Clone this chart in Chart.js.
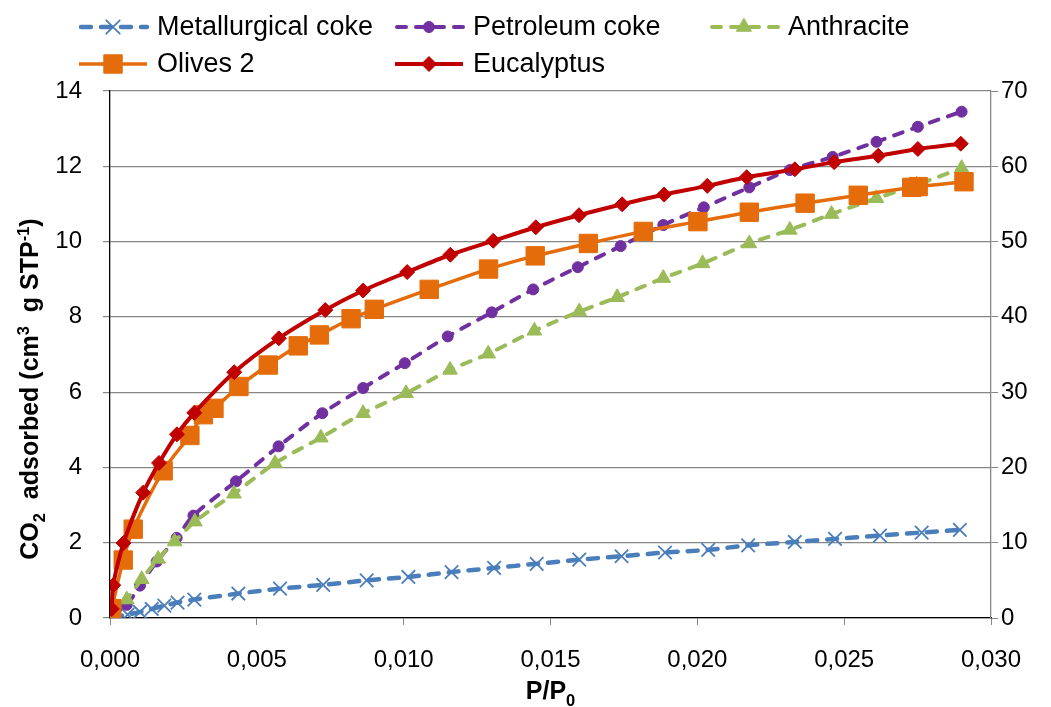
<!DOCTYPE html>
<html>
<head>
<meta charset="utf-8">
<script src="https://cdn.jsdelivr.net/npm/chart.js@4.4.1/dist/chart.umd.min.js"></script>
<style>
  html, body { margin: 0; padding: 0; background: #ffffff; }
  #wrap { width: 1051px; height: 707px; }
</style>
</head>
<body>
<div id="wrap"><canvas id="c" width="1051" height="707"></canvas></div>
<script>
// Relative pressure (P/P0) and CO2 uptake (cm3 g STP-1) for each sorbent
const metallurgicalP = [0.00007, 0.0006, 0.00102, 0.00142, 0.00185, 0.0023, 0.00287, 0.00437, 0.00579, 0.00726, 0.00874, 0.01016, 0.01163, 0.01308, 0.01453, 0.01598, 0.01742, 0.0189, 0.02037, 0.02173, 0.02332, 0.02469, 0.02622, 0.02764, 0.02894];
const metallurgicalQ = [0.02, 0.09, 0.16, 0.24, 0.33, 0.41, 0.49, 0.65, 0.78, 0.88, 1.0, 1.09, 1.22, 1.33, 1.44, 1.55, 1.64, 1.74, 1.81, 1.93, 2.02, 2.1, 2.19, 2.27, 2.34];

const petroleumP = [0.0001, 0.00057, 0.00102, 0.00159, 0.00227, 0.00284, 0.00429, 0.00574, 0.00723, 0.00862, 0.01004, 0.0115, 0.013, 0.01441, 0.01593, 0.01739, 0.01884, 0.02022, 0.02177, 0.02315, 0.02461, 0.0261, 0.02751, 0.029];
const petroleumQ = [0.08, 0.35, 0.86, 1.5, 2.13, 2.72, 3.63, 4.56, 5.44, 6.11, 6.77, 7.48, 8.12, 8.73, 9.32, 9.88, 10.44, 10.91, 11.44, 11.9, 12.25, 12.65, 13.05, 13.45];

const anthraciteP = [0.00009, 0.00057, 0.00108, 0.00164, 0.0022, 0.00289, 0.00422, 0.00562, 0.00718, 0.00862, 0.01008, 0.01158, 0.01288, 0.01445, 0.01598, 0.01727, 0.01884, 0.02018, 0.02177, 0.02315, 0.02457, 0.0261, 0.02747, 0.029];
const anthraciteQ = [0.03, 0.49, 1.03, 1.57, 2.03, 2.56, 3.3, 4.11, 4.79, 5.44, 5.97, 6.59, 7.02, 7.63, 8.14, 8.52, 9.03, 9.42, 9.95, 10.31, 10.73, 11.15, 11.51, 11.95];

const olivesP = [0.00006, 0.00045, 0.00079, 0.00181, 0.00272, 0.00318, 0.00354, 0.00439, 0.00539, 0.00641, 0.00713, 0.00821, 0.009, 0.01087, 0.01289, 0.01448, 0.01629, 0.01816, 0.02002, 0.02177, 0.02367, 0.02548, 0.0273, 0.02752, 0.02908];
const olivesQ = [0.25, 1.54, 2.36, 3.91, 4.85, 5.4, 5.57, 6.15, 6.72, 7.23, 7.52, 7.95, 8.2, 8.73, 9.27, 9.62, 9.95, 10.27, 10.53, 10.78, 11.02, 11.23, 11.44, 11.46, 11.59];

const eucalyptusP = [0.00006, 0.00011, 0.00046, 0.00113, 0.00167, 0.00228, 0.00287, 0.00423, 0.00575, 0.00733, 0.00862, 0.01012, 0.01159, 0.01305, 0.0145, 0.01597, 0.01744, 0.01887, 0.02034, 0.02168, 0.02332, 0.02466, 0.02616, 0.02751, 0.02897];
const eucalyptusQ = [0.24, 0.87, 1.99, 3.33, 4.12, 4.88, 5.45, 6.53, 7.43, 8.18, 8.7, 9.19, 9.65, 10.02, 10.38, 10.7, 10.99, 11.25, 11.48, 11.71, 11.92, 12.11, 12.28, 12.46, 12.6];

// Axis settings
const xTicks = { min: 0, max: 0.030, step: 0.005 };
const yLeftTicks = { min: 0, max: 14, step: 2 };
const yRightTicks = { min: 0, max: 70, step: 10 };

const seriesNames = ['Metallurgical coke', 'Petroleum coke', 'Anthracite', 'Olives 2', 'Eucalyptus'];

const FONT = "'Liberation Sans', Arial, sans-serif";
const GRID = '#868686';

const toPoints = (xs, ys) => xs.map((x, i) => ({ x: x, y: ys[i] }));

const datasets = [
  {
    label: seriesNames[0], data: toPoints(metallurgicalP, metallurgicalQ),
    borderColor: '#4A7EBB', backgroundColor: '#4A7EBB', borderWidth: 4.5,
    borderDash: [10, 10], borderCapStyle: 'round',
    pointStyle: 'crossRot', pointRadius: 9.5, pointBorderWidth: 1.8,
    pointBorderColor: '#4A7EBB', order: 4
  },
  {
    label: seriesNames[1], data: toPoints(petroleumP, petroleumQ),
    borderColor: '#7030A0', backgroundColor: '#7030A0', borderWidth: 4,
    borderDash: [9, 10], borderCapStyle: 'round',
    pointStyle: 'circle', pointRadius: 5.5, pointBorderWidth: 1,
    pointBackgroundColor: '#7030A0', pointBorderColor: '#7030A0', order: 3
  },
  {
    label: seriesNames[2], data: toPoints(anthraciteP, anthraciteQ),
    borderColor: '#9BBB59', backgroundColor: '#9BBB59', borderWidth: 4,
    borderDash: [9, 10], borderCapStyle: 'round',
    pointStyle: 'triangle', pointRadius: 8.5, pointBorderWidth: 1,
    pointBackgroundColor: '#9BBB59', pointBorderColor: '#9BBB59', order: 2
  },
  {
    label: seriesNames[3], data: toPoints(olivesP, olivesQ),
    borderColor: '#E46C0A', backgroundColor: '#E46C0A', borderWidth: 3.5,
    pointStyle: 'rect', pointRadius: 13, pointBorderWidth: 1,
    pointBackgroundColor: '#E46C0A', pointBorderColor: '#E46C0A', order: 1
  },
  {
    label: seriesNames[4], data: toPoints(eucalyptusP, eucalyptusQ),
    borderColor: '#C00000', backgroundColor: '#C00000', borderWidth: 4,
    pointStyle: 'rectRot', pointRadius: 7.5, pointBorderWidth: 1,
    pointBackgroundColor: '#C00000', pointBorderColor: '#C00000', order: 0
  }
];

// Legend laid out in two rows of fixed columns
const legendSlots = [
  { x: 79, y: 27 }, { x: 395, y: 27 }, { x: 710, y: 27 },
  { x: 79, y: 64 }, { x: 395, y: 64 }
];

const legendPlugin = {
  id: 'gridLegend',
  afterDraw(chart) {
    const ctx = chart.ctx;
    chart.data.datasets.forEach((ds, i) => {
      const slot = legendSlots[i];
      const x0 = slot.x, x1 = slot.x + 68, y = slot.y;
      ctx.save();
      ctx.strokeStyle = ds.borderColor;
      ctx.lineWidth = ds.borderWidth;
      ctx.lineCap = ds.borderCapStyle || 'butt';
      ctx.setLineDash(ds.borderDash || []);
      ctx.beginPath();
      ctx.moveTo(x0 + (ds.borderDash ? 2 : 0), y);
      ctx.lineTo(x1, y);
      ctx.stroke();
      ctx.setLineDash([]);
      ctx.fillStyle = ds.pointBackgroundColor || ds.borderColor;
      ctx.strokeStyle = ds.pointBorderColor || ds.borderColor;
      ctx.lineWidth = ds.pointBorderWidth;
      Chart.helpers.drawPoint(ctx, {
        pointStyle: ds.pointStyle, radius: ds.pointRadius, rotation: 0, borderWidth: ds.pointBorderWidth
      }, (x0 + x1) / 2, y);
      ctx.fillStyle = '#000000';
      ctx.font = '27px ' + FONT;
      ctx.textBaseline = 'middle';
      ctx.textAlign = 'left';
      ctx.fillText(ds.label, x1 + 10, y + 1);
      ctx.restore();
    });
  }
};

// Axis titles with sub- and superscripts
function drawRich(ctx, pieces, size, startX, baseY) {
  let x = startX;
  pieces.forEach(p => {
    const s = p.mode ? size * 0.66 : size;
    ctx.font = 'bold ' + s + 'px ' + FONT;
    const dy = p.mode === 'sub' ? size * 0.28 : (p.mode === 'sup' ? -size * 0.38 : 0);
    ctx.fillText(p.t, x, baseY + dy);
    x += ctx.measureText(p.t).width;
  });
}
function richWidth(ctx, pieces, size) {
  let w = 0;
  pieces.forEach(p => {
    const s = p.mode ? size * 0.66 : size;
    ctx.font = 'bold ' + s + 'px ' + FONT;
    w += ctx.measureText(p.t).width;
  });
  return w;
}

const yTitle = [
  { t: 'CO' }, { t: '2', mode: 'sub' }, { t: '  adsorbed (cm' }, { t: '3', mode: 'sup' },
  { t: '  g STP' }, { t: '-1', mode: 'sup' }, { t: ')' }
];
const xTitle = [{ t: 'P/P' }, { t: '0', mode: 'sub' }];

const titlePlugin = {
  id: 'richTitles',
  afterDraw(chart) {
    const ctx = chart.ctx;
    const area = chart.chartArea;
    ctx.save();
    ctx.fillStyle = '#000000';
    ctx.textBaseline = 'alphabetic';
    ctx.textAlign = 'left';
    const ys = 25;
    const yw = richWidth(ctx, yTitle, ys);
    ctx.translate(38, 389);
    ctx.rotate(-Math.PI / 2);
    drawRich(ctx, yTitle, ys, -yw / 2, 0);
    ctx.restore();

    ctx.save();
    ctx.fillStyle = '#000000';
    ctx.textBaseline = 'alphabetic';
    ctx.textAlign = 'left';
    const xs = 25;
    const xw = richWidth(ctx, xTitle, xs);
    drawRich(ctx, xTitle, xs, (area.left + area.right) / 2 - xw / 2, 699);
    ctx.restore();
  }
};

const tickFont = { family: FONT, size: 24 };

new Chart(document.getElementById('c'), {
  type: 'line',
  data: { datasets: datasets },
  options: {
    responsive: false,
    animation: false,
    devicePixelRatio: 1,
    layout: { padding: { top: 91, left: 0, right: 0, bottom: 0 } },
    elements: { line: { tension: 0.3 } },
    plugins: { legend: { display: false }, tooltip: { enabled: false }, title: { display: false } },
    scales: {
      x: {
        type: 'linear', position: 'bottom',
        min: xTicks.min, max: xTicks.max,
        ticks: {
          stepSize: xTicks.step, color: '#000000', font: tickFont, padding: 21,
          maxRotation: 0,
          callback: v => v.toFixed(3).replace('.', ',')
        },
        grid: { drawOnChartArea: false, drawTicks: true, tickLength: 7, color: GRID },
        border: { color: '#000000', width: 1.3 },
        afterFit: s => { s.height = 89; }
      },
      y: {
        type: 'linear', position: 'left',
        min: yLeftTicks.min, max: yLeftTicks.max,
        ticks: { stepSize: yLeftTicks.step, color: '#000000', font: tickFont, padding: 21 },
        grid: { color: GRID, lineWidth: 1.2, tickLength: 7 },
        border: { color: '#000000', width: 1.3 },
        afterFit: s => { s.width = 110; }
      },
      y2: {
        type: 'linear', position: 'right',
        min: yRightTicks.min, max: yRightTicks.max,
        ticks: { stepSize: yRightTicks.step, color: '#000000', font: tickFont, padding: 3 },
        grid: { drawOnChartArea: false, color: GRID, tickLength: 7 },
        border: { color: GRID, width: 1.3 },
        afterFit: s => { s.width = 60; }
      }
    }
  },
  plugins: [legendPlugin, titlePlugin]
});
</script>
</body>
</html>
